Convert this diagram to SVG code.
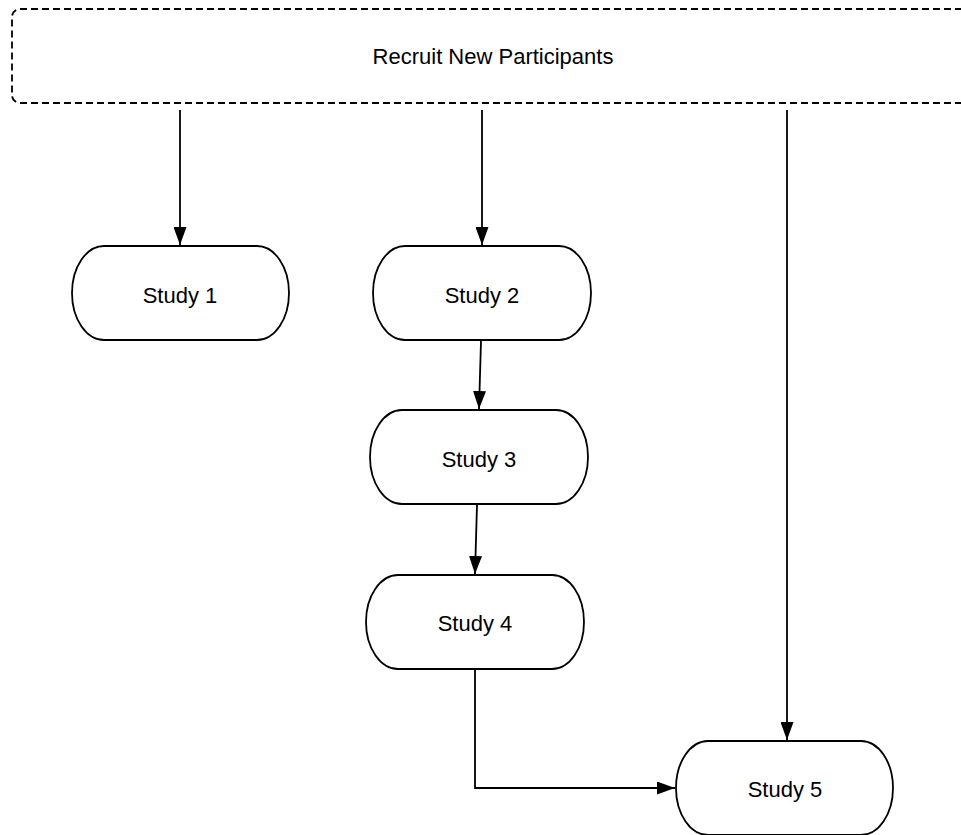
<svg xmlns="http://www.w3.org/2000/svg" width="961" height="835" viewBox="0 0 961 835">
<style>
.node{fill:#fff;stroke:#000;stroke-width:1.8}
.dash{fill:#fff;stroke:#000;stroke-width:1.8;stroke-dasharray:7 4}
.lbl{font-family:"Liberation Sans",Arial,sans-serif;font-size:22px;fill:#000;text-anchor:middle;dominant-baseline:central}
.edge{fill:none;stroke:#000;stroke-width:1.8}
</style>
<defs>
<marker id="arr" viewBox="0 0 18 13" refX="18" refY="6.5" markerWidth="18" markerHeight="13" markerUnits="userSpaceOnUse" orient="auto">
<path d="M0,0 L18,6.5 L0,13 Z" fill="#000"/>
</marker>
</defs>
<rect x="0" y="0" width="961" height="835" fill="#fff"/>
<g id="recruit">
<rect class="dash" x="12" y="9" width="980" height="94" rx="8" ry="8"/>
<text class="lbl" x="493" y="56">Recruit New Participants</text>
</g>
<g id="study1">
<rect class="node" x="72" y="246" width="217" height="94" rx="32" ry="47"/>
<text class="lbl" x="180" y="295">Study 1</text>
</g>
<g id="study2">
<rect class="node" x="373" y="246" width="218" height="94" rx="32" ry="47"/>
<text class="lbl" x="482" y="295">Study 2</text>
</g>
<g id="study3">
<rect class="node" x="370" y="410" width="218" height="94" rx="32" ry="47"/>
<text class="lbl" x="479" y="459">Study 3</text>
</g>
<g id="study4">
<rect class="node" x="366" y="575" width="218" height="94" rx="32" ry="47"/>
<text class="lbl" x="475" y="623">Study 4</text>
</g>
<g id="study5">
<rect class="node" x="676" y="741" width="217" height="94" rx="32" ry="47"/>
<text class="lbl" x="785" y="789">Study 5</text>
</g>
<g id="connectors">
<path class="edge" d="M180,110 L180,245" marker-end="url(#arr)"/>
<path class="edge" d="M482,110 L482,245" marker-end="url(#arr)"/>
<path class="edge" d="M787,110 L787,740" marker-end="url(#arr)"/>
<path class="edge" d="M481,341 L479,409" marker-end="url(#arr)"/>
<path class="edge" d="M477,505 L475,574" marker-end="url(#arr)"/>
<path class="edge" d="M475,670 L475,788 L675,788" marker-end="url(#arr)"/>
</g>
</svg>
